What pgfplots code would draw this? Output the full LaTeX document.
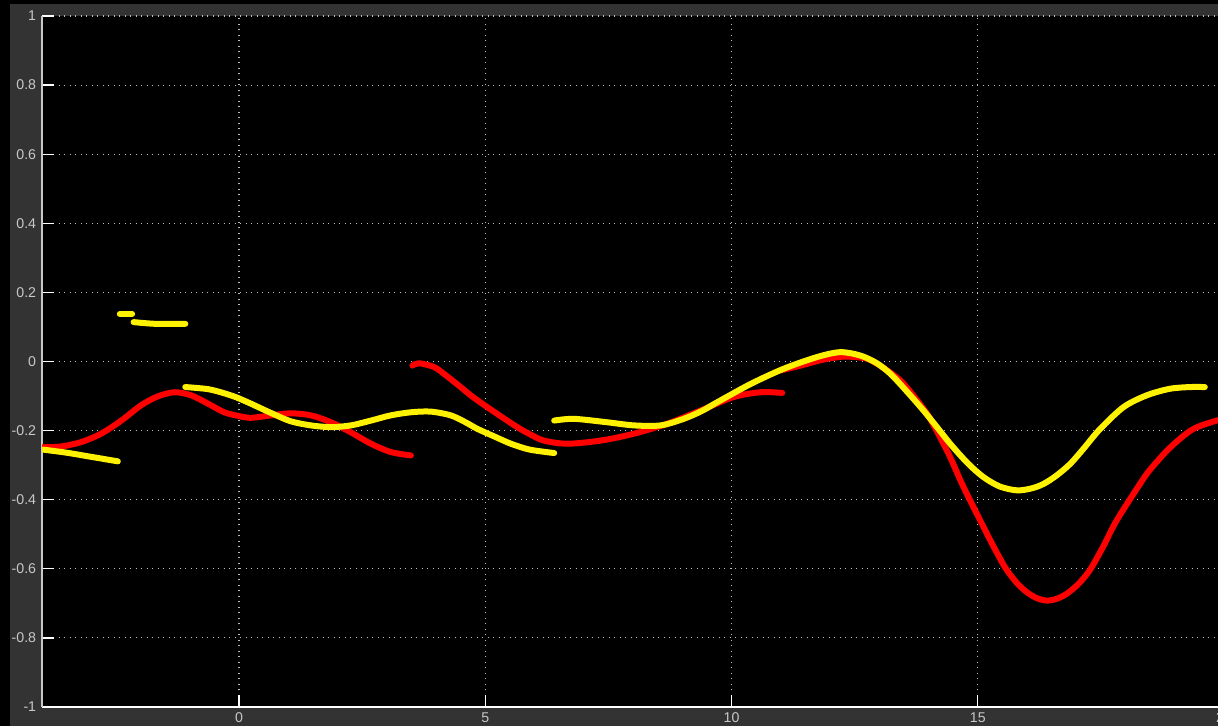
\documentclass[border=0pt]{standalone}
\usepackage{pgfplots}
\pgfplotsset{compat=1.18}
\usepackage{fontspec}
\setmainfont{Liberation Sans}
\definecolor{panel}{HTML}{333333}
\definecolor{lbl}{HTML}{C8C8C8}
\definecolor{gridc}{HTML}{BDBDBD}
\begin{document}
\begin{tikzpicture}
\fill[black] (0pt,0pt) rectangle (730.8pt,435.6pt);
\fill[panel] (6pt,0pt) rectangle (730.8pt,433.2pt);
\begin{axis}[
  at={(25.2pt,11.4pt)}, anchor=south west,
  scale only axis, width=709.2pt, height=414.6pt,
  xmin=-4, xmax=20, ymin=-1, ymax=1,
  xtick={0,5,10,15,20}, ytick={-1,-0.8,-0.6,-0.4,-0.2,0,0.2,0.4,0.6,0.8,1},
  axis background/.style={fill=black},
  axis x line*=bottom, axis y line*=left,
  x axis line style={-,white,line width=0.9pt},
  y axis line style={-,lbl,line width=0.9pt},
  xtick pos=bottom, ytick pos=left,
  tick align=inside, major tick length=7pt,
  tick style={white,line width=0.8pt},
  grid=major,
  major grid style={gridc,line width=0.7pt,dash pattern=on 0.7pt off 2.6pt},
  ticklabel style={font=\fontsize{8.5}{10}\selectfont, text=lbl},
  /pgf/number format/assume math mode=true,
  yticklabel style={/pgf/number format/fixed},
  every axis plot/.append style={line width=3.6pt, line cap=round, line join=round},
]
% red segments
\addplot[red, smooth] coordinates {(-3.98,-0.248) (-3.61,-0.246) (-3.2,-0.233) (-2.8,-0.209) (-2.39,-0.171) (-1.99,-0.127) (-1.65,-0.101) (-1.31,-0.089) (-0.97,-0.098) (-0.63,-0.122) (-0.30,-0.147) (0.0,-0.158) (0.24,-0.163) (0.65,-0.156) (1.05,-0.15) (1.46,-0.156) (1.87,-0.176) (2.27,-0.205) (2.68,-0.238) (3.08,-0.262) (3.49,-0.272)};
\addplot[red, smooth] coordinates {(3.52,-0.012) (3.65,-0.005) (3.96,-0.016) (4.2,-0.04) (4.5,-0.074) (4.75,-0.103) (5.04,-0.132) (5.35,-0.162) (5.65,-0.19) (5.9,-0.21) (6.19,-0.229) (6.67,-0.238) (7.34,-0.229) (8.02,-0.209) (8.7,-0.18) (9.37,-0.142) (10.04,-0.103) (10.59,-0.089) (11.03,-0.091)};
\addplot[red, smooth] coordinates {(10.99,-0.026) (11.4,-0.012) (11.85,0.005) (12.28,0.014) (12.75,0.008) (13.1,-0.02) (13.43,-0.055) (13.7,-0.1) (13.97,-0.151) (14.2,-0.21) (14.44,-0.277) (14.7,-0.36) (15.05,-0.46) (15.3,-0.53) (15.56,-0.597) (15.8,-0.642) (16.0,-0.668) (16.2,-0.685) (16.4,-0.692) (16.6,-0.687) (16.81,-0.672) (17.05,-0.643) (17.28,-0.603) (17.55,-0.535) (17.82,-0.46) (18.3,-0.353) (18.5,-0.313) (18.9,-0.25) (19.38,-0.195) (19.95,-0.167)};
% yellow segments
\addplot[yellow, smooth] coordinates {(-3.98,-0.255) (-3.5,-0.264) (-3.0,-0.276) (-2.46,-0.289)};
\addplot[yellow] coordinates {(-2.42,0.138) (-2.17,0.138)};
\addplot[yellow, smooth] coordinates {(-2.14,0.114) (-1.7,0.109) (-1.09,0.109)};
\addplot[yellow, smooth] coordinates {(-1.09,-0.074) (-0.63,-0.080) (-0.3,-0.092) (-0.05,-0.104) (0.24,-0.122) (0.65,-0.149) (1.05,-0.173) (1.46,-0.185) (1.87,-0.19) (2.27,-0.185) (2.68,-0.171) (3.08,-0.156) (3.49,-0.147) (3.89,-0.145) (4.3,-0.156) (4.6,-0.176) (4.84,-0.195) (5.2,-0.218) (5.52,-0.238) (5.9,-0.255) (6.4,-0.265)};
\addplot[yellow, smooth] coordinates {(6.4,-0.171) (6.8,-0.166) (7.48,-0.176) (8.02,-0.185) (8.56,-0.185) (9.03,-0.166) (9.4,-0.143) (9.71,-0.118) (10.39,-0.065) (11.06,-0.021) (11.74,0.013) (12.21,0.027) (12.62,0.017) (12.95,-0.005) (13.23,-0.036) (13.55,-0.085) (13.9,-0.142) (14.2,-0.195) (14.44,-0.238) (14.8,-0.295) (15.12,-0.335) (15.45,-0.362) (15.8,-0.373) (16.1,-0.367) (16.34,-0.354) (16.6,-0.33) (16.88,-0.296) (17.15,-0.252) (17.48,-0.196) (17.96,-0.132) (18.43,-0.098) (18.9,-0.079) (19.31,-0.074) (19.61,-0.074)};
\end{axis}
\pgfresetboundingbox
\path[use as bounding box] (0pt,0pt) rectangle (730.8pt,435.6pt);
\end{tikzpicture}
\end{document}
